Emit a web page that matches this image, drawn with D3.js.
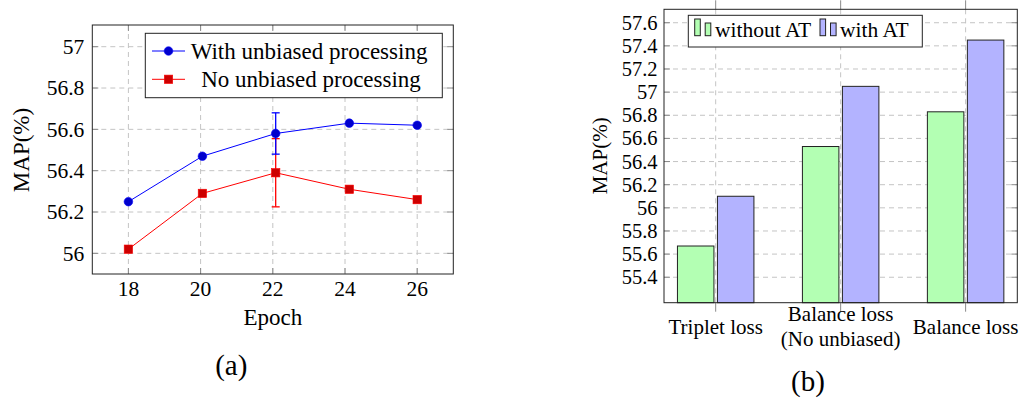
<!DOCTYPE html>
<html>
<head>
<meta charset="utf-8">
<script src="https://cdn.jsdelivr.net/npm/d3@7"></script>
<style>
  body { margin: 0; background: #fff; }
  svg { display: block; font-family: "Liberation Serif", "Times New Roman", serif; }
  .grid line { stroke: #c4c4c4; stroke-dasharray: 5,4; stroke-width: 1; }
  .tick-mark { stroke: #8a8a8a; stroke-width: 1; }
</style>
</head>
<body>
<svg id="chart" width="1019" height="402"></svg>
<script>
// ---- data: (a) MAP vs epoch
const epochs = [18, 20, 22, 24, 26];
const epochTicks = [18, 20, 22, 24, 26];
// the marks sit slightly right of the ticks in the original
const epochPos = [18, 20.05, 22.08, 24.12, 26];
const withUnbiased = [56.25, 56.47, 56.58, 56.63, 56.62];
const noUnbiased = [56.02, 56.29, 56.39, 56.31, 56.26];
const withErr = [0, 0, 0.1, 0, 0];
const noErr = [0, 0, 0.165, 0, 0];
const leftYTicks = [56, 56.2, 56.4, 56.6, 56.8, 57];

// ---- data: (b) loss comparison
const lossNames = [["Triplet loss"], ["Balance loss", "(No unbiased)"], ["Balance loss"]];
const withoutAT = [55.67, 56.53, 56.83];
const withAT = [56.1, 57.05, 57.45];
const rightYTicks = [55.4, 55.6, 55.8, 56, 56.2, 56.4, 56.6, 56.8, 57, 57.2, 57.4, 57.6];

const svg = d3.select('#chart');
const fmt = d => String(+d.toFixed(1));

// ================= chart (a) =================
const A = { left: 92.3, right: 453.3, top: 25, bottom: 274 };
const xa = d3.scaleLinear().domain([17, 27]).range([A.left, A.right]);
const ya = d3.scaleLinear().domain([55.9, 57.105]).range([A.bottom, A.top]);
const ga = svg.append('g');

// grid
const gridA = ga.append('g').attr('class', 'grid');
gridA.selectAll('.gx').data(epochTicks).enter().append('line')
  .attr('x1', d => xa(d)).attr('x2', d => xa(d))
  .attr('y1', A.top).attr('y2', A.bottom);
gridA.selectAll('.gy').data(leftYTicks).enter().append('line')
  .attr('x1', A.left).attr('x2', A.right)
  .attr('y1', d => ya(d)).attr('y2', d => ya(d));

// inner tick marks on all four sides
const tl = 6;
epochTicks.forEach(t => {
  ga.append('line').attr('class', 'tick-mark').attr('x1', xa(t)).attr('x2', xa(t)).attr('y1', A.bottom).attr('y2', A.bottom - tl);
  ga.append('line').attr('class', 'tick-mark').attr('x1', xa(t)).attr('x2', xa(t)).attr('y1', A.top).attr('y2', A.top + tl);
});
leftYTicks.forEach(t => {
  ga.append('line').attr('class', 'tick-mark').attr('x1', A.left).attr('x2', A.left + tl).attr('y1', ya(t)).attr('y2', ya(t));
  ga.append('line').attr('class', 'tick-mark').attr('x1', A.right).attr('x2', A.right - tl).attr('y1', ya(t)).attr('y2', ya(t));
});

// frame
ga.append('rect').attr('x', A.left).attr('y', A.top)
  .attr('width', A.right - A.left).attr('height', A.bottom - A.top)
  .attr('fill', 'none').attr('stroke', '#222').attr('stroke-width', 1);

// tick labels
ga.selectAll('.xl').data(epochTicks).enter().append('text')
  .attr('x', d => xa(d)).attr('y', 296).attr('text-anchor', 'middle')
  .attr('font-size', 21.5).text(d => d);
ga.selectAll('.yl').data(leftYTicks).enter().append('text')
  .attr('x', 84.3).attr('y', d => ya(d) + 7.4).attr('text-anchor', 'end')
  .attr('font-size', 21.5).text(fmt);

// axis labels
ga.append('text').attr('x', xa(22)).attr('y', 325).attr('text-anchor', 'middle')
  .attr('font-size', 23).text('Epoch');
ga.append('text').attr('transform', `translate(29,${150}) rotate(-90)`)
  .attr('text-anchor', 'middle').attr('font-size', 23).text('MAP(%)');

// series
function drawSeries(vals, errs, lineColor, markColor, shape) {
  const pts = vals.map((v, i) => ({ x: epochPos[i], y: v, e: errs[i] }));
  const line = d3.line().x(d => xa(d.x)).y(d => ya(d.y));
  ga.append('path').datum(pts).attr('d', line)
    .attr('fill', 'none').attr('stroke', lineColor).attr('stroke-width', 1);
  pts.filter(d => d.e > 0).forEach(d => {
    const cx = xa(d.x);
    ga.append('line').attr('x1', cx).attr('x2', cx).attr('y1', ya(d.y - d.e)).attr('y2', ya(d.y + d.e))
      .attr('stroke', lineColor).attr('stroke-width', 1.3);
    [d.y - d.e, d.y + d.e].forEach(v => {
      ga.append('line').attr('x1', cx - 4).attr('x2', cx + 4).attr('y1', ya(v)).attr('y2', ya(v))
        .attr('stroke', lineColor).attr('stroke-width', 1.3);
    });
  });
  pts.forEach(d => drawMarker(ga, xa(d.x), ya(d.y), markColor, lineColor, shape));
}
function drawMarker(g, cx, cy, fill, stroke, shape) {
  if (shape === 'circle') {
    g.append('circle').attr('cx', cx).attr('cy', cy).attr('r', 4.3)
      .attr('fill', fill).attr('stroke', stroke).attr('stroke-width', 0.6);
  } else {
    g.append('rect').attr('x', cx - 4.2).attr('y', cy - 4.2).attr('width', 8.4).attr('height', 8.4)
      .attr('fill', fill).attr('stroke', stroke).attr('stroke-width', 0.6);
  }
}
drawSeries(noUnbiased, noErr, '#ff0000', '#cc0000', 'square');
drawSeries(withUnbiased, withErr, '#0000ff', '#0000cc', 'circle');

// legend (a)
const la = ga.append('g');
la.append('rect').attr('x', 145.3).attr('y', 33.3).attr('width', 297).attr('height', 64.4)
  .attr('fill', '#fff').attr('stroke', '#222').attr('stroke-width', 1);
[
  { label: 'With unbiased processing', line: '#0000ff', mark: '#0000cc', shape: 'circle', y: 51, tx: 190.7, anchor: 'start' },
  { label: 'No unbiased processing', line: '#ff0000', mark: '#cc0000', shape: 'square', y: 79.3, tx: 311, anchor: 'middle' }
].forEach(e => {
  la.append('line').attr('x1', 152).attr('x2', 185).attr('y1', e.y).attr('y2', e.y)
    .attr('stroke', e.line).attr('stroke-width', 1);
  drawMarker(la, 168.5, e.y, e.mark, e.line, e.shape);
  la.append('text').attr('x', e.tx).attr('y', e.y + 7.5).attr('text-anchor', e.anchor)
    .attr('font-size', 23).text(e.label);
});

ga.append('text').attr('x', 231.3).attr('y', 375).attr('text-anchor', 'middle')
  .attr('font-size', 29).text('(a)');

// ================= chart (b) =================
const B = { left: 664, right: 1017.3, top: 9.3, bottom: 302.7 };
const xb = d3.scaleLinear().domain([-0.4136, 2.4136]).range([B.left, B.right]);
const yb = d3.scaleLinear().domain([55.18, 57.716]).range([B.bottom, B.top]);
const gb = svg.append('g');
const unit = xb(1) - xb(0);
const barW = unit * 0.292, barOff = unit * 0.16;

const gridB = gb.append('g').attr('class', 'grid');
gridB.selectAll('.gx').data(lossNames).enter().append('line')
  .attr('x1', (d, i) => xb(i)).attr('x2', (d, i) => xb(i))
  .attr('y1', B.top).attr('y2', B.bottom);
gridB.selectAll('.gy').data(rightYTicks).enter().append('line')
  .attr('x1', B.left).attr('x2', B.right)
  .attr('y1', d => yb(d)).attr('y2', d => yb(d));

// x ticks outside, y ticks inside
lossNames.forEach((d, i) => {
  gb.append('line').attr('class', 'tick-mark').attr('x1', xb(i)).attr('x2', xb(i)).attr('y1', B.top).attr('y2', B.top - 9);
  gb.append('line').attr('class', 'tick-mark').attr('x1', xb(i)).attr('x2', xb(i)).attr('y1', B.bottom).attr('y2', B.bottom + 9);
});
rightYTicks.forEach(t => {
  gb.append('line').attr('class', 'tick-mark').attr('x1', B.left).attr('x2', B.left + tl).attr('y1', yb(t)).attr('y2', yb(t));
  gb.append('line').attr('class', 'tick-mark').attr('x1', B.right).attr('x2', B.right - tl).attr('y1', yb(t)).attr('y2', yb(t));
});

// bars
const barGroups = [
  { vals: withoutAT, fill: '#b3ffb3', off: -barOff },
  { vals: withAT, fill: '#b3b3ff', off: barOff }
];
barGroups.forEach(s => {
  gb.selectAll(null).data(s.vals).enter().append('rect')
    .attr('x', (d, i) => xb(i) + s.off - barW / 2)
    .attr('y', d => yb(d))
    .attr('width', barW)
    .attr('height', d => B.bottom - yb(d))
    .attr('fill', s.fill).attr('stroke', '#222').attr('stroke-width', 1);
});

gb.append('rect').attr('x', B.left).attr('y', B.top)
  .attr('width', B.right - B.left).attr('height', B.bottom - B.top)
  .attr('fill', 'none').attr('stroke', '#222').attr('stroke-width', 1);

// tick labels
gb.selectAll('.yl').data(rightYTicks).enter().append('text')
  .attr('x', 657.5).attr('y', d => yb(d) + 7).attr('text-anchor', 'end')
  .attr('font-size', 20.5).text(fmt);
lossNames.forEach((lines, i) => {
  const base = lines.length === 1 ? 334 : 321.3;
  lines.forEach((l, j) => {
    gb.append('text').attr('x', xb(i)).attr('y', base + j * 24.4).attr('text-anchor', 'middle')
      .attr('font-size', 21).text(l);
  });
});

gb.append('text').attr('transform', `translate(607,${155.8}) rotate(-90)`)
  .attr('text-anchor', 'middle').attr('font-size', 21).text('MAP(%)');

// legend (b)
const lb = gb.append('g');
lb.append('rect').attr('x', 688.3).attr('y', 15.3).attr('width', 234).attr('height', 31.7)
  .attr('fill', '#fff').attr('stroke', '#222').attr('stroke-width', 1);
[
  { label: 'without AT', fill: '#b3ffb3', x: 694.7, tx: 715 },
  { label: 'with AT', fill: '#b3b3ff', x: 820, tx: 840 }
].forEach(e => {
  lb.append('rect').attr('x', e.x).attr('y', 19).attr('width', 5.6).attr('height', 16.7)
    .attr('fill', e.fill).attr('stroke', '#222').attr('stroke-width', 1);
  lb.append('rect').attr('x', e.x + 10.5).attr('y', 23).attr('width', 5.6).attr('height', 12.7)
    .attr('fill', e.fill).attr('stroke', '#222').attr('stroke-width', 1);
  lb.append('text').attr('x', e.tx).attr('y', 36.5).attr('font-size', 21.5).text(e.label);
});

gb.append('text').attr('x', 808).attr('y', 391).attr('text-anchor', 'middle')
  .attr('font-size', 29).text('(b)');
</script>
</body>
</html>
